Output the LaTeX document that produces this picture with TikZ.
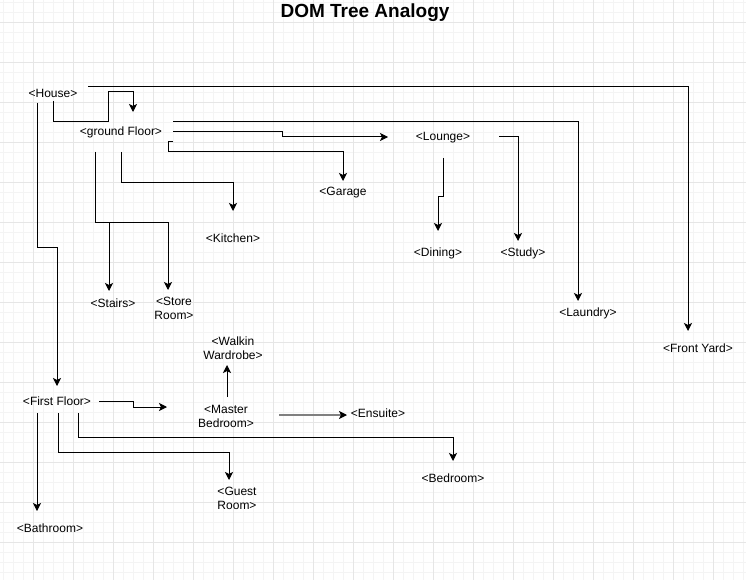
\documentclass[tikz,border=0pt]{standalone}
\usepackage{fontspec}
\setmainfont{Liberation Sans}
\usetikzlibrary{arrows.meta,calc}
\definecolor{gridmajor}{HTML}{E6E6E6}
\definecolor{gridminor}{HTML}{F4F4F4}
\definecolor{ensgray}{HTML}{808080}
\begin{document}
\begin{tikzpicture}[x=1pt,y=-1pt,
  lbl/.style={font=\fontsize{12}{14}\selectfont, inner sep=0pt, align=center, text=black},
  ttl/.style={font=\fontsize{19}{22}\selectfont\bfseries, inner sep=0pt, text=black},
  conn/.style={line width=1pt, draw=black, -{Stealth[length=8pt,width=8pt,inset=2pt]}},
  engconn/.style={line width=1.2pt, draw=ensgray, -{Stealth[length=8pt,width=8pt,inset=2pt,color=black]}},
  minorline/.style={draw=gridminor, line width=0.6pt},
  majorline/.style={draw=gridmajor, line width=0.8pt}]
\useasboundingbox[fill=white] (0,0) rectangle (746,580);
% grid
\foreach \x in {3,13,...,743} \draw[minorline] (\x,0) -- (\x,580);
\foreach \y in {2,12,...,572} \draw[minorline] (0,\y) -- (746,\y);
\foreach \x in {33,73,...,713} \draw[majorline] (\x,0) -- (\x,580);
\foreach \y in {22,62,...,542} \draw[majorline] (0,\y) -- (746,\y);

% title
\node[ttl] (title) at (365,13) {DOM Tree Analogy};

% nodes
\node[lbl] (House) at (53,93) {<House>};
\node[lbl] (GF) at (121,132) {<ground Floor>};
\node[lbl] (Lounge) at (443,138) {<Lounge>};
\node[lbl] (Garage) at (343,193) {<Garage};
\node[lbl] (Kitchen) at (233,238) {<Kitchen>};
\node[lbl] (Dining) at (438,253) {<Dining>};
\node[lbl] (Study) at (523,253) {<Study>};
\node[lbl] (Stairs) at (113,303) {<Stairs>};
\node[lbl] (Store) at (174,308) {<Store\\Room>};
\node[lbl] (Laundry) at (588,313) {<Laundry>};
\node[lbl] (FrontYard) at (698,348) {<Front Yard>};
\node[lbl] (Walkin) at (233,348) {<Walkin\\Wardrobe>};
\node[lbl] (FirstFloor) at (57,401) {<First Floor>};
\node[lbl] (Master) at (226,416) {<Master\\Bedroom>};
\node[lbl] (Ensuite) at (378,413) {<Ensuite>};
\node[lbl] (Bedroom) at (453,478) {<Bedroom>};
\node[lbl] (Guest) at (237,498) {<Guest\\Room>};
\node[lbl] (Bathroom) at (50,528) {<Bathroom>};

% connectors from House
\draw[conn] ($(House)+(0,8)$) |- (108,122) |- ($(GF)+(12,-40)$) -- ($(GF)+(12,-20)$);
\draw[conn] ($(House)+(35,-6)$) -| ($(FrontYard)+(-10,-17)$);
\draw[conn] ($(House)+(-16,10)$) -- (37,247) -| ($(FirstFloor)+(0,-15)$);

% connectors from ground Floor
\draw[conn] ($(GF)+(52,-10)$) -| ($(Laundry)+(-10,-12)$);
\draw[conn] ($(GF)+(52,0)$) -- (282,132) |- ($(Lounge)+(-55,-1)$);
\draw[conn] ($(GF)+(52,10)$) -| (168,152) -| ($(Garage)+(0,-12)$);
\draw[conn] ($(GF)+(0,20)$) -- (121,182) -| ($(Kitchen)+(0,-27)$);
\draw[conn] ($(GF)+(-26,20)$) -- (95,222) -| ($(Stairs)+(-4,-12)$);
\draw[conn] ($(GF)+(-26,20)$) -- (95,222) -| ($(Store)+(-6,-18)$);

% connectors from Lounge
\draw[conn] ($(Lounge)+(0,20)$) -- (443,196) -| ($(Dining)+(0,-22)$);
\draw[conn] ($(Lounge)+(56,-1)$) -| ($(Study)+(-5,-12)$);

% connectors from First Floor
\draw[conn] ($(FirstFloor)+(42,0)$) -- (133,401) |- ($(Master)+(-59,-9)$);
\draw[conn] ($(FirstFloor)+(21,12)$) -- (78,437) -| ($(Bedroom)+(0,-17)$);
\draw[conn] ($(FirstFloor)+(1,12)$) -- (58,452) -| ($(Guest)+(-8,-18)$);
\draw[conn] ($(FirstFloor)+(-20,12)$) -- ($(Bathroom)+(-13,-17)$);

% connectors from Master Bedroom
\draw[conn] ($(Master)+(1,-19)$) -- ($(Walkin)+(-6,17)$);
\draw[engconn] ($(Master)+(53,-1)$) -- ($(Ensuite)+(-31,2)$);
\end{tikzpicture}
\end{document}
